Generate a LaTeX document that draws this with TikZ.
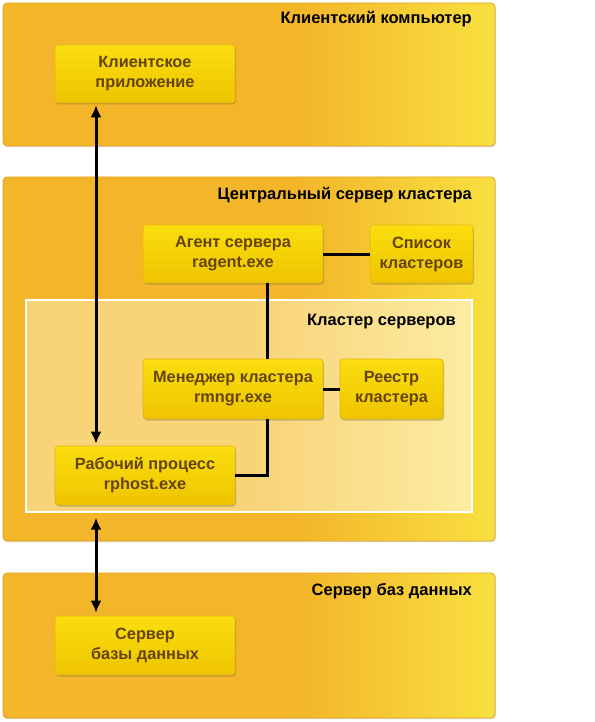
\documentclass[tikz,border=0pt]{standalone}
\usepackage{fontspec}
\setmainfont{Liberation Sans}
\usetikzlibrary{shadows,arrows.meta}
\definecolor{boxO}{RGB}{243,182,42}
\definecolor{boxY}{RGB}{249,224,64}
\definecolor{boxBorder}{RGB}{226,165,35}
\definecolor{inL}{RGB}{248,211,120}
\definecolor{inR}{RGB}{252,236,162}
\definecolor{nodeTop}{RGB}{250,222,14}
\definecolor{nodeBot}{RGB}{238,196,0}
\definecolor{nodeBorder}{RGB}{228,180,20}
\definecolor{txtBrown}{RGB}{100,68,12}
\pgfdeclarehorizontalshading{outershade}{100bp}{color(0bp)=(boxO); color(25bp)=(boxO); color(55bp)=(boxO); color(75bp)=(boxY); color(100bp)=(boxY)}
\pgfdeclarehorizontalshading{innershade}{100bp}{color(0bp)=(inL); color(25bp)=(inL); color(50bp)=(inL); color(75bp)=(inR); color(100bp)=(inR)}
\tikzset{
  outerbox/.style={draw=boxBorder, line width=0.8pt, rounded corners=4pt, shading=outershade, inner sep=0pt,
    drop shadow={shadow xshift=0.8pt, shadow yshift=-1.2pt, opacity=0.25, fill=black!60}},
  innerbox/.style={draw=white, line width=1.4pt, shading=innershade, inner sep=0pt},
  proc/.style={draw=nodeBorder, line width=0.6pt, rounded corners=3pt, top color=nodeTop, bottom color=nodeBot,
    text=txtBrown, font=\bfseries\fontsize{16.3}{20}\selectfont, align=center, inner sep=0pt,
    drop shadow={shadow xshift=1pt, shadow yshift=-1.5pt, opacity=0.3, fill=black!70}},
  boxtitle/.style={anchor=east, font=\bfseries\fontsize{16.5}{20}\selectfont, text=black, inner sep=0pt},
  link/.style={draw=black, line width=3pt},
  arr/.style={draw=black, line width=3pt, {Latex[length=12pt,width=11pt]}-{Latex[length=12pt,width=11pt]}}
}
\begin{document}
\begin{tikzpicture}[x=1pt,y=-1pt]
\useasboundingbox (0,0) rectangle (594,722);
% containers
\node[outerbox, minimum width=492pt, minimum height=143pt] (client) at (249,74.5) {};
\node[outerbox, minimum width=492pt, minimum height=364pt] (central) at (249,359) {};
\node[outerbox, minimum width=492pt, minimum height=145pt] (dbsrv) at (249,645.5) {};
\node[innerbox, minimum width=446pt, minimum height=212pt] (cluster) at (249,406) {};
% titles
\node[boxtitle] (t1) at (472,19) {Клиентский компьютер};
\node[boxtitle] (t2) at (472,195) {Центральный сервер кластера};
\node[boxtitle] (t3) at (456,322) {Кластер серверов};
\node[boxtitle] (t4) at (472,591) {Сервер баз данных};
% processes
\node[proc, minimum width=180pt, minimum height=58pt] (app) at (145,74) {Клиентское\\приложение};
\node[proc, minimum width=180pt, minimum height=58pt] (agent) at (233,254) {Агент сервера\\ragent.exe};
\node[proc, minimum width=103pt, minimum height=58pt] (list) at (421.5,254) {Список\\кластеров};
\node[proc, minimum width=180pt, minimum height=60pt] (mgr) at (233,389) {Менеджер кластера\\rmngr.exe};
\node[proc, minimum width=103pt, minimum height=60pt] (reg) at (391.5,389) {Реестр\\кластера};
\node[proc, minimum width=180pt, minimum height=59pt] (work) at (145,475.5) {Рабочий процесс\\rphost.exe};
\node[proc, minimum width=180pt, minimum height=59pt] (db) at (145,645.5) {Сервер\\базы данных};
% connectors
\draw[link] (agent.east) -- (list.west);
\draw[link] ([xshift=34pt]agent.south) -- ([xshift=34pt]mgr.north);
\draw[link] (mgr.east) -- (reg.west);
\draw[link] ([xshift=34pt]mgr.south) |- (work.east);
\draw[arr] ([xshift=-49pt,yshift=-2pt]app.south) -- ([xshift=-49pt,yshift=2pt]work.north);
\draw[arr] ([xshift=-49pt,yshift=-5pt]work.south |- cluster.south) -- ([xshift=-49pt,yshift=3pt]db.north);
\end{tikzpicture}
\end{document}
